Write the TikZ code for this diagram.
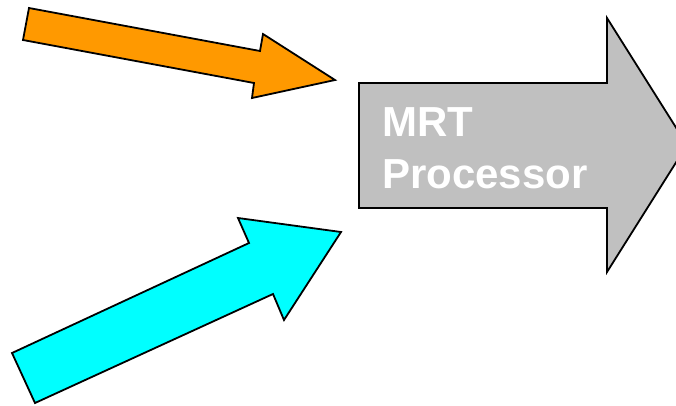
\documentclass[tikz,border=0pt]{standalone}
\usepackage{fontspec}
\setmainfont{Liberation Sans}
\definecolor{arrorange}{HTML}{FF9900}
\definecolor{arrcyan}{HTML}{00FFFF}
\definecolor{arrgray}{HTML}{C0C0C0}
\begin{document}
\begin{tikzpicture}[x=1pt,y=-1pt,
  blockarrow/.style={draw=black,line width=1.8pt,line join=miter},
  labeltext/.style={text=white,font=\fontsize{42}{52}\selectfont\bfseries,inner sep=0pt,anchor=base west}]
\useasboundingbox (0,0) rectangle (676,405);
\clip (0,0) rectangle (676,405);
% orange arrow
\draw[blockarrow,fill=arrorange] (29,8) -- (260,51) -- (263,34) -- (335,80) -- (252,98) -- (254,83) -- (23,40) -- cycle;
% cyan arrow
\draw[blockarrow,fill=arrcyan] (12,353) -- (249,243) -- (238,218) -- (341,232) -- (284,320) -- (273,294) -- (35,403) -- cycle;
% gray arrow
\draw[blockarrow,fill=arrgray] (359,83) -- (607,83) -- (607,18) -- (687,145) -- (607,272) -- (607,208) -- (359,208) -- cycle;
\node[labeltext] (mrt) at (382,136) {MRT};
\node[labeltext] (proc) at (382,188) {Processor};
\end{tikzpicture}
\end{document}
